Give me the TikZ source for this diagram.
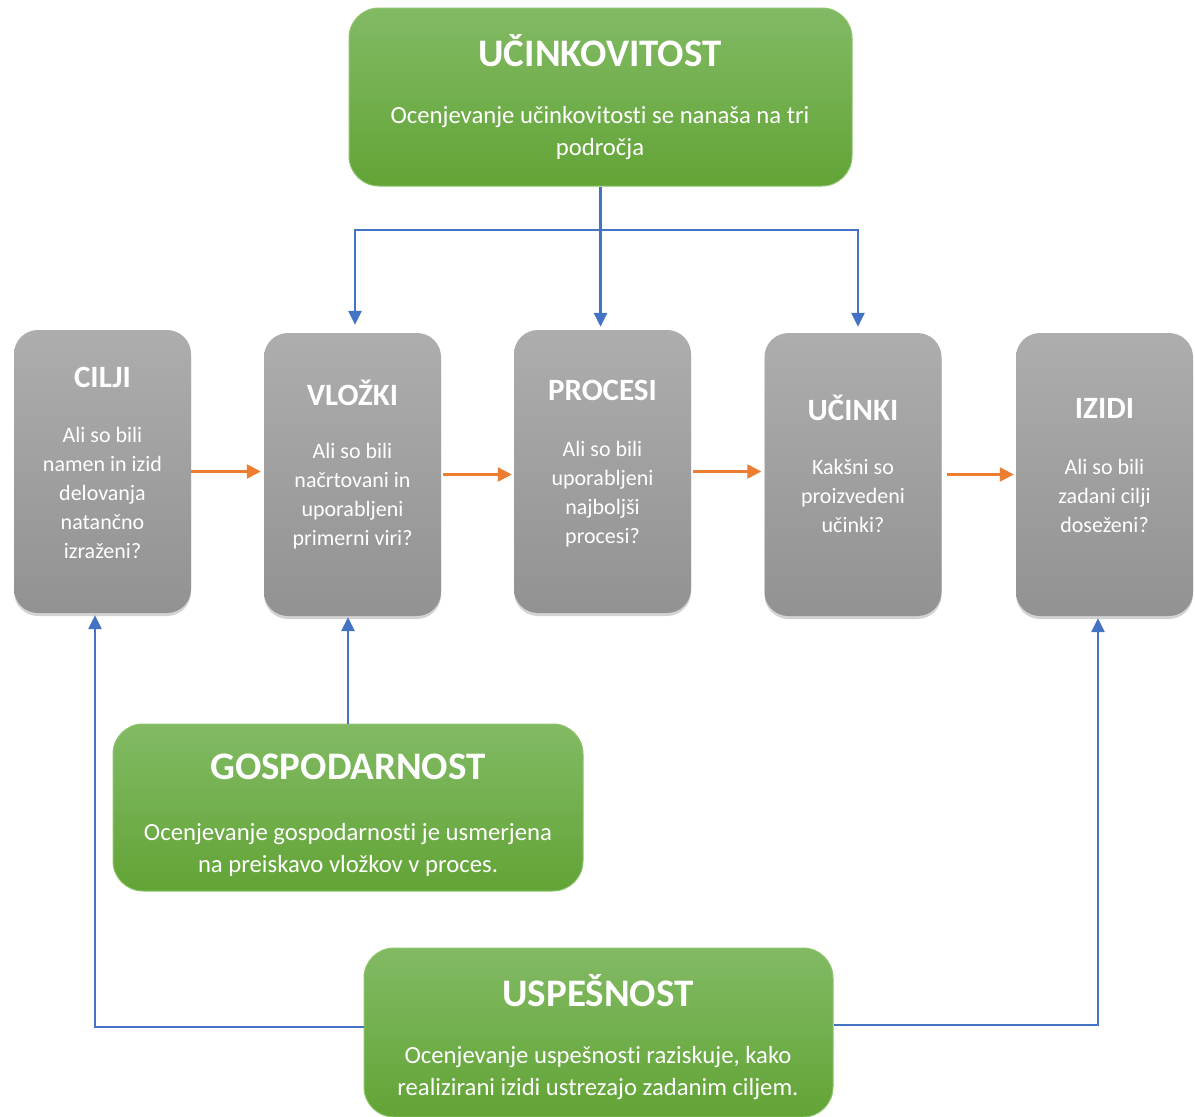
\documentclass[tikz,border=0pt]{standalone}
\usepackage{fontspec}
\setmainfont{Carlito}[Ligatures=NoCommon]
\usetikzlibrary{shadows,arrows.meta}
\definecolor{gtop}{HTML}{82BA64}
\definecolor{gbot}{HTML}{62A436}
\definecolor{gline}{HTML}{8DC46C}
\definecolor{ytop}{HTML}{ADADAD}
\definecolor{ybot}{HTML}{929292}
\definecolor{bluel}{HTML}{4472C4}
\definecolor{orangel}{HTML}{ED7D31}
\begin{document}
\begin{tikzpicture}[x=1pt,y=-1pt,
  greenbox/.style={rounded corners=30pt, draw=gline, line width=1pt, top color=gtop, bottom color=gbot, inner sep=0pt},
  graybox/.style={rounded corners=24pt, top color=ytop, bottom color=ybot, inner sep=0pt, minimum width=177pt, minimum height=283pt,
     drop shadow={opacity=0.35, shadow xshift=0pt, shadow yshift=-3pt}},
  gtitle/.style={text=white, font=\fontsize{39}{44}\selectfont\bfseries, inner sep=0pt},
  gbody/.style={text=white, font=\fontsize{24.7}{32}\selectfont, align=center, inner sep=0pt},
  ytitle/.style={text=white, font=\fontsize{31}{34}\selectfont\bfseries, inner sep=0pt},
  ybody/.style={text=white, font=\fontsize{22}{29}\selectfont, align=center, inner sep=0pt},
  barrow/.style={draw=bluel, line width=2.5pt, -{Triangle[length=14pt,width=13pt]}},
  oarrow/.style={draw=orangel, line width=2.5pt, -{Triangle[length=14pt,width=14pt]}}
]
\useasboundingbox (0,0) rectangle (1195,1117);

% green boxes
\node[greenbox, minimum width=503pt, minimum height=178pt] (uc) at (600.5,97) {};
\node[gtitle] (uct) at (600,51) {UČINKOVITOST};
\node[gbody] (ucb) at (600,133.5) {Ocenjevanje učinkovitosti se nanaša na tri\\področja};

\node[greenbox, minimum width=470pt, minimum height=167pt] (gos) at (348,807.5) {};
\node[gtitle] (gost) at (348,767) {GOSPODARNOST};
\node[gbody] (gosb) at (348,849.5) {Ocenjevanje gospodarnosti je usmerjena\\na preiskavo vložkov v proces.};

\node[greenbox, minimum width=469pt, minimum height=169pt] (usp) at (598.5,1032.5) {};
\node[gtitle] (uspt) at (598,991) {USPEŠNOST};
\node[gbody] (uspb) at (598,1073.5) {Ocenjevanje uspešnosti raziskuje, kako\\realizirani izidi ustrezajo zadanim ciljem.};

% gray boxes
\node[graybox] (ci) at (102.5,471.5) {};
\node[ytitle] (cit) at (102.5,377) {CILJI};
\node[ybody] (cib) at (102.5,493) {Ali so bili\\namen in izid\\delovanja\\natančno\\izraženi?};

\node[graybox] (vl) at (352.5,474.5) {};
\node[ytitle] (vlt) at (352.5,393) {VLOŽKI};
\node[ybody] (vlb) at (352.5,496) {Ali so bili\\načrtovani in\\uporabljeni\\primerni viri?};

\node[graybox] (pr) at (602.5,471.5) {};
\node[ytitle] (prt) at (602.5,390) {PROCESI};
\node[ybody] (prb) at (602.5,494.5) {Ali so bili\\uporabljeni\\najboljši\\procesi?};

\node[graybox] (uk) at (853,474.5) {};
\node[ytitle] (ukt) at (853,408) {UČINKI};
\node[ybody] (ukb) at (853,496) {Kakšni so\\proizvedeni\\učinki?};

\node[graybox] (iz) at (1104.5,474.5) {};
\node[ytitle] (izt) at (1104.5,408) {IZIDI};
\node[ybody] (izb) at (1104.5,496) {Ali so bili\\zadani cilji\\doseženi?};

% orange arrows
\draw[oarrow] (ci.east) -- ([xshift=-3pt]vl.west |- ci.east);
\draw[oarrow] ([xshift=2pt]vl.east) -- ([xshift=-2pt]pr.west |- vl.east);
\draw[oarrow] ([xshift=2pt]pr.east) -- ([xshift=-3pt]uk.west |- pr.east);
\draw[oarrow] ([xshift=5pt]uk.east) -- ([xshift=-2pt]iz.west |- uk.east);

% blue top connectors
\coordinate (split) at (600,230);
\draw[barrow] (uc.south) -- ([yshift=3pt]pr.north -| uc.south);
\draw[barrow] (split) -| ([xshift=2.5pt, yshift=8pt]vl.north);
\draw[barrow] (split) -| ([xshift=5pt, yshift=6pt]uk.north);

% blue bottom connectors
\draw[barrow] (gos.north) -- ([yshift=-1pt]vl.south -| gos.north);
\draw[barrow] ([yshift=5.5pt]usp.west) -| ([xshift=-7.5pt, yshift=-2pt]ci.south);
\draw[barrow] ([yshift=7.5pt]usp.east) -| ([xshift=-6.5pt, yshift=-2pt]iz.south);
\end{tikzpicture}
\end{document}
